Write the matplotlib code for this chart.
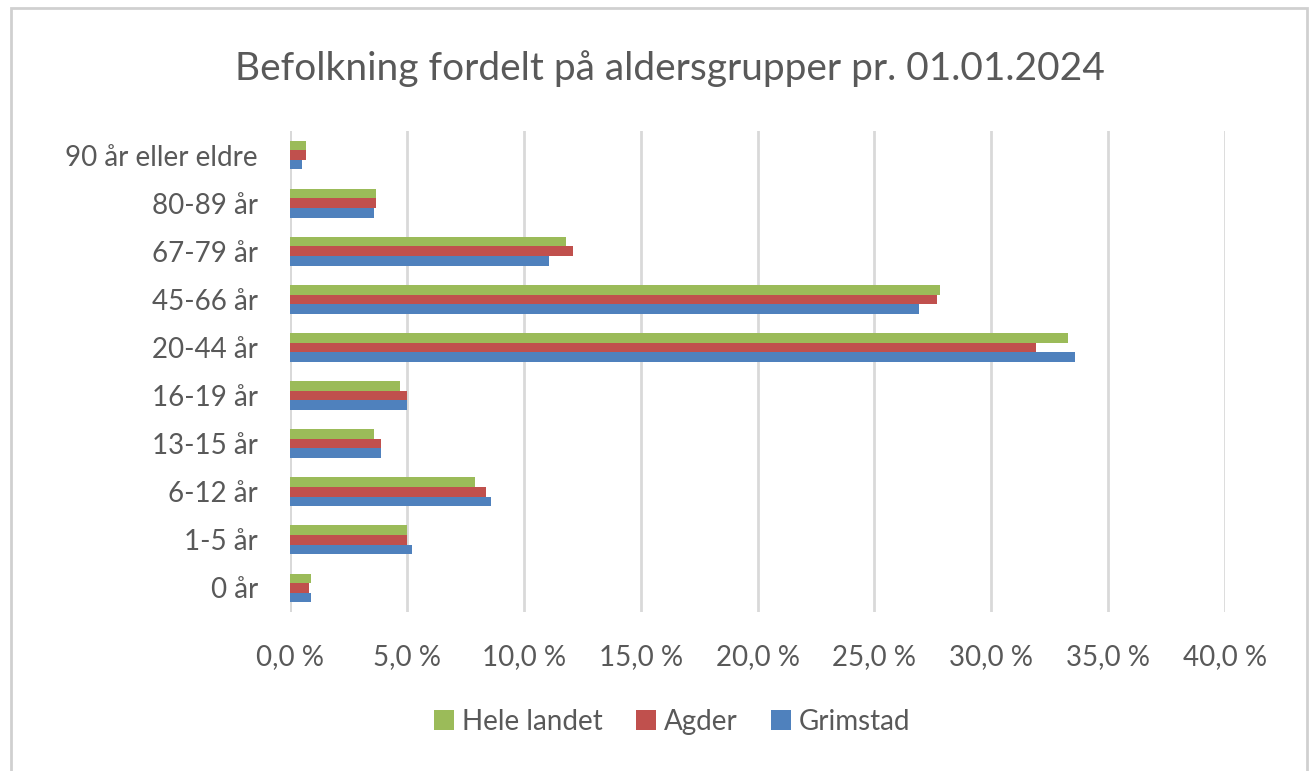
import matplotlib.pyplot as plt
import numpy as np
from matplotlib.patches import Rectangle
from matplotlib.ticker import MultipleLocator, FuncFormatter

# data (percent of population)
groups = ["0 år", "1-5 år", "6-12 år", "13-15 år", "16-19 år",
          "20-44 år", "45-66 år", "67-79 år", "80-89 år", "90 år eller eldre"]
hele_landet = [0.9, 5.0, 7.9, 3.6, 4.7, 33.3, 27.8, 11.8, 3.7, 0.7]
agder       = [0.8, 5.0, 8.4, 3.9, 5.0, 31.9, 27.7, 12.1, 3.7, 0.7]
grimstad    = [0.9, 5.2, 8.6, 3.9, 5.0, 33.6, 26.9, 11.1, 3.6, 0.5]

series = [("Hele landet", hele_landet, "#9BBB59"),
          ("Agder", agder, "#C0504D"),
          ("Grimstad", grimstad, "#4F81BD")]

plt.rcParams['font.family'] = ['Lato', 'DejaVu Sans']
txt = "#595959"

fig = plt.figure(figsize=(13.16, 7.71), dpi=100)
fig.patches.append(Rectangle((0.008, -0.01), 0.985, 1.0, transform=fig.transFigure,
                             fill=False, edgecolor="#d0d0d0", linewidth=2))
ax = fig.add_axes([290 / 1316, 1 - 612 / 771, 935 / 1316, 481 / 771])

y = np.arange(len(groups))
h = 0.2
for i, (name, vals, col) in enumerate(series):
    ax.barh(y + (1 - i) * h, vals, height=h, color=col, label=name, zorder=3)

ax.set_xlim(0, 40)
ax.set_ylim(-0.5, len(groups) - 0.5)
ax.xaxis.set_major_locator(MultipleLocator(5))
ax.xaxis.set_major_formatter(FuncFormatter(lambda v, p: f"{v:.1f}".replace(".", ",") + " %"))
ax.set_yticks(y)
ax.set_yticklabels(groups)
ax.grid(axis="x", color="#d9d9d9", linewidth=2, zorder=0)
ax.axvline(0, color="#d9d9d9", linewidth=2, zorder=2)
for s in ax.spines.values():
    s.set_visible(False)
ax.tick_params(length=0, labelsize=20, colors=txt)
ax.tick_params(axis="y", pad=23)
ax.tick_params(axis="x", pad=23)

fig.suptitle("Befolkning fordelt på aldersgrupper pr. 01.01.2024",
             x=0.509, y=0.935, fontsize=28, color=txt)
fig.legend(loc="center", bbox_to_anchor=(0.511, 0.064), ncol=3, frameon=False,
           fontsize=20, labelcolor=txt, handlelength=0.7, handleheight=0.7,
           handletextpad=0.3, columnspacing=1.2)

fig.savefig("out.png", dpi=100, facecolor="white")
